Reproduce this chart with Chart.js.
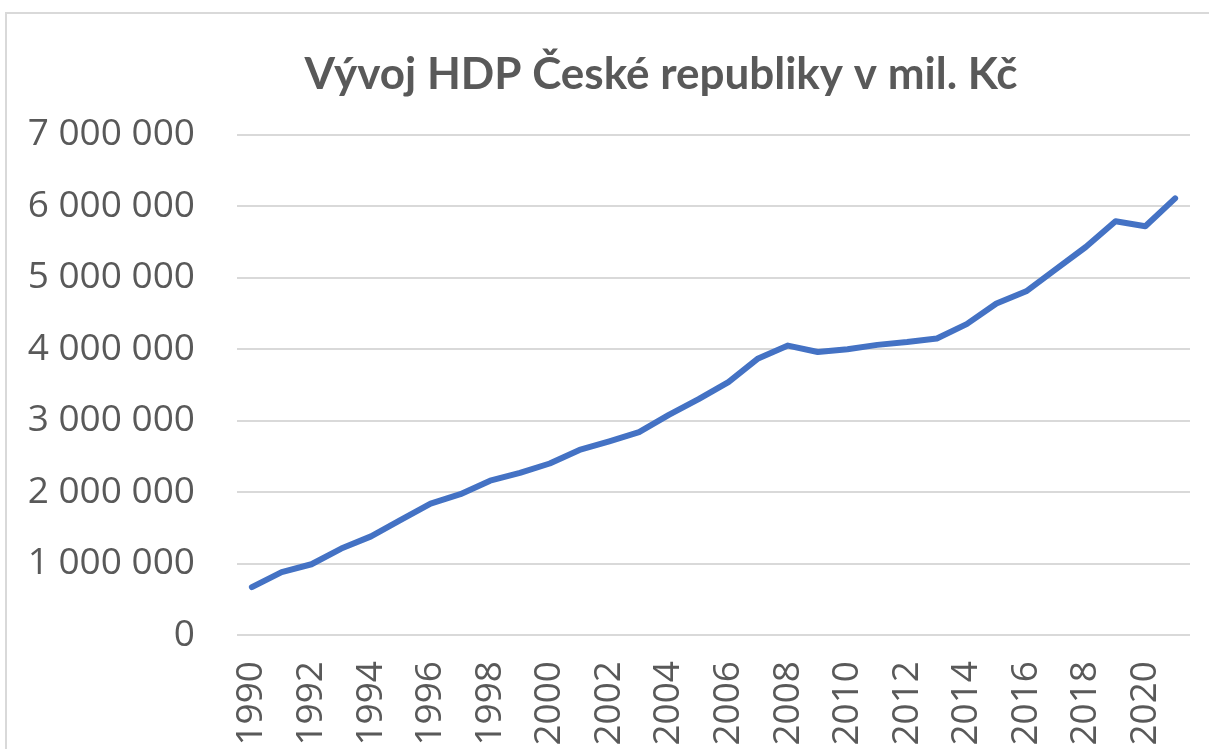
<!DOCTYPE html>
<html>
<head>
<meta charset="utf-8">
<script src="https://cdn.jsdelivr.net/npm/chart.js@4.4.1/dist/chart.umd.min.js"></script>
<style>
html,body{margin:0;padding:0;background:#fff;overflow:hidden;width:1209px;height:749px;}
#frame{position:absolute;left:5px;top:12px;width:1400px;height:900px;border:2px solid #d9d9d9;box-sizing:border-box;}
#wrap{position:absolute;left:0;top:0;width:1209px;height:749px;}
</style>
</head>
<body>
<div id="frame"></div>
<div id="wrap"><canvas id="c" width="1209" height="749"></canvas></div>
<script>
const title = "Vývoj HDP České republiky v mil. Kč";
const years = ["1990","1991","1992","1993","1994","1995","1996","1997","1998","1999","2000","2001","2002","2003","2004","2005","2006","2007","2008","2009","2010","2011","2012","2013","2014","2015","2016","2017","2018","2019","2020","2021"];
const gdp = [670000,880000,990000,1210000,1380000,1610000,1840000,1970000,2160000,2270000,2400000,2590000,2710000,2840000,3080000,3300000,3540000,3870000,4050000,3960000,4000000,4060000,4100000,4150000,4350000,4640000,4810000,5120000,5430000,5790000,5720000,6110000];
const yMin = 0, yMax = 7000000, yStep = 1000000;

function fmt(v){ return String(Math.round(v)).replace(/\B(?=(\d{3})+(?!\d))/g, " "); }

const shiftTitle = {
  id: 'shiftTitle',
  afterLayout(chart){
    const t = chart.titleBlock;
    if (t) { t.left = 0; t.right = 1322; t.width = 1322; }
  }
};

function build(){
  new Chart(document.getElementById('c'), {
    type: 'line',
    data: {
      labels: years,
      datasets: [{
        data: gdp,
        borderColor: '#4472C4',
        borderWidth: 6,
        pointRadius: 0,
        tension: 0,
        borderCapStyle: 'round',
        borderJoinStyle: 'round',
        fill: false
      }]
    },
    options: {
      responsive: false,
      animation: false,
      layout: { padding: { left: 0, right: 19, top: 0, bottom: 0 } },
      plugins: {
        legend: { display: false },
        tooltip: { enabled: false },
        title: {
          display: true,
          text: title,
          color: '#595959',
          font: { family: 'Lato', size: 44, weight: 'bold' },
          padding: { top: 48, bottom: 34 }
        }
      },
      scales: {
        x: {
          offset: true,
          grid: { display: false, drawTicks: false },
          border: { display: false },
          ticks: {
            autoSkip: false,
            maxRotation: 90,
            minRotation: 90,
            padding: 26,
            color: '#595959',
            font: { family: 'Open Sans', size: 37 },
            callback: function(v, i){ return i % 2 === 0 ? years[i] : ''; }
          },
          afterFit: function(s){ s.height = 114; s.paddingLeft = 0; s.paddingRight = 0; }
        },
        y: {
          min: yMin, max: yMax,
          grid: { color: '#d9d9d9', lineWidth: 2, drawTicks: false },
          border: { display: false },
          ticks: {
            stepSize: yStep,
            padding: 42,
            color: '#595959',
            font: { family: 'Open Sans', size: 37 },
            callback: function(v){ return fmt(v); }
          },
          afterFit: function(s){ s.width = 237; s.paddingTop = 0; s.paddingBottom = 0; }
        }
      }
    },
    plugins: [shiftTitle]
  });
}
Promise.all([
  document.fonts.load('37px "Open Sans"'),
  document.fonts.load('bold 44px "Lato"')
]).then(build, build);
</script>
</body>
</html>
